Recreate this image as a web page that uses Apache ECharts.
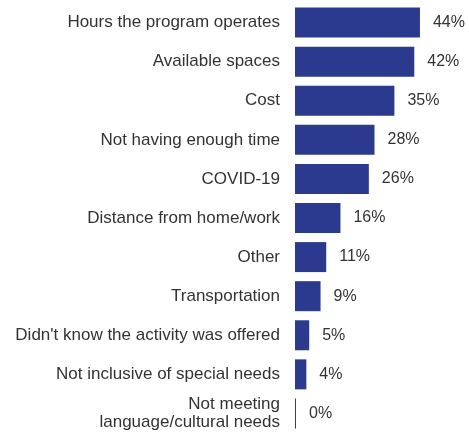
<!DOCTYPE html>
<html>
<head>
<meta charset="utf-8">
<script src="https://cdn.jsdelivr.net/npm/echarts@6/dist/echarts.min.js"></script>
<style>
  html, body { margin: 0; padding: 0; background: #fff; }
  #chart { width: 469px; height: 433px; }
</style>
</head>
<body>
<div id="chart"></div>
<script>
// categories, top to bottom
const categories = [
  'Hours the program operates',
  'Available spaces',
  'Cost',
  'Not having enough time',
  'COVID-19',
  'Distance from home/work',
  'Other',
  'Transportation',
  "Didn't know the activity was offered",
  'Not inclusive of special needs',
  'Not meeting\nlanguage/cultural needs'
];
const percents = [44, 42, 35, 28, 26, 16, 11, 9, 5, 4, 0];

const chart = echarts.init(document.getElementById('chart'));
chart.setOption({
  animation: false,
  grid: { left: 295, top: 3, width: 142, height: 432, containLabel: false },
  xAxis: {
    type: 'value',
    min: 0,
    max: 50,
    show: false
  },
  yAxis: {
    type: 'category',
    inverse: true,
    data: categories,
    axisLine: { show: false },
    axisTick: { show: false },
    axisLabel: {
      margin: 15,
      color: '#333',
      fontSize: 17,
      lineHeight: 18,
      fontFamily: 'Liberation Sans, Arial, sans-serif'
    }
  },
  series: [{
    type: 'bar',
    data: percents,
    barWidth: 30,
    barMinHeight: 1,
    itemStyle: { color: '#2b3a8e' },
    label: {
      show: true,
      position: 'right',
      distance: 13,
      color: '#333',
      fontSize: 16,
      fontFamily: 'Liberation Sans, Arial, sans-serif',
      formatter: p => p.value + '%'
    }
  }]
});
</script>
</body>
</html>
